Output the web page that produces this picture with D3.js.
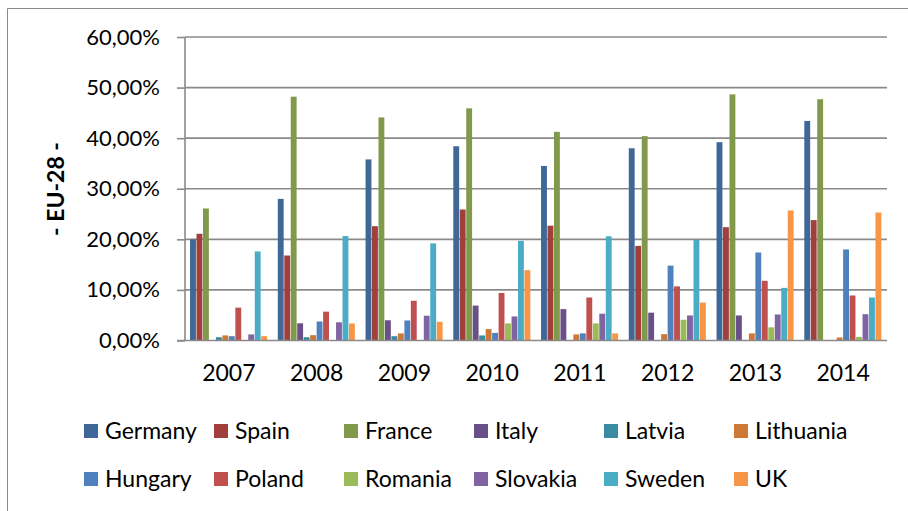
<!DOCTYPE html>
<html>
<head>
<meta charset="utf-8">
<script src="https://cdn.jsdelivr.net/npm/d3@7"></script>
<style>
  body { margin: 0; background: #fff; }
  text { font-family: Lato, "Liberation Sans", sans-serif; fill: #000; }
</style>
</head>
<body>
<svg id="chart" width="908" height="511"></svg>
<script>
// Jahre (Kategorien) und Länder (Serien)
var years = ["2007", "2008", "2009", "2010", "2011", "2012", "2013", "2014"];
var countries = ["Germany", "Spain", "France", "Italy", "Latvia", "Lithuania",
                 "Hungary", "Poland", "Romania", "Slovakia", "Sweden", "UK"];
var colors = ["#3F6797", "#A03F3C", "#80994A", "#6A5088", "#388BA0", "#CD7835",
              "#4F81BD", "#C0504D", "#9BBB59", "#8064A2", "#4BACC6", "#F79646"];

// Werte in % pro Land, Reihenfolge wie years
var germany   = [20.0, 28.0, 35.8, 38.4, 34.5, 38.0, 39.2, 43.4];
var spain     = [21.1, 16.8, 22.6, 25.9, 22.7, 18.7, 22.4, 23.8];
var france    = [26.1, 48.2, 44.1, 45.9, 41.25, 40.4, 48.65, 47.7];
var italy     = [0, 3.4, 4.0, 6.9, 6.2, 5.5, 4.95, 0];
var latvia    = [0.65, 0.65, 0.85, 1.0, 0, 0, 0, 0];
var lithuania = [1.0, 1.05, 1.4, 2.25, 1.2, 1.25, 1.4, 0.6];
var hungary   = [0.85, 3.76, 3.96, 1.5, 1.4, 14.8, 17.4, 18.0];
var poland    = [6.5, 5.7, 7.85, 9.4, 8.5, 10.7, 11.8, 8.9];
var romania   = [0, 0, 0, 3.37, 3.37, 4.1, 2.6, 0.7];
var slovakia  = [1.2, 3.6, 4.9, 4.75, 5.3, 4.95, 5.15, 5.2];
var sweden    = [17.6, 20.65, 19.2, 19.7, 20.6, 19.9, 10.4, 8.5];
var uk        = [0.85, 3.37, 3.7, 13.9, 1.4, 7.5, 25.7, 25.3];

var series = [germany, spain, france, italy, latvia, lithuania,
              hungary, poland, romania, slovakia, sweden, uk];
var yTicks = [0, 10, 20, 30, 40, 50, 60];

var svg = d3.select("#chart");

// Rahmen (nur links und oben sichtbar)
svg.append("path")
    .attr("d", "M7.5,511 L7.5,8.5 L908,8.5")
    .attr("fill", "none")
    .attr("stroke", "#8a8a8a")
    .attr("stroke-width", 1);

var plot = {left: 185, right: 887, top: 37, bottom: 340.5};

var x0 = d3.scaleBand().domain(years).range([plot.left, plot.right]);
var x1 = d3.scaleBand().domain(countries).range([0, x0.bandwidth()]).paddingOuter(0.78);
var y = d3.scaleLinear().domain([0, 60]).range([plot.bottom, plot.top]);

var fmt = d3.formatLocale({decimal: ",", thousands: ".", grouping: [3], currency: ["", "€"]});
var pct = function(d) { return fmt.format(".2f")(d) + "%"; };

// Gitterlinien
svg.append("g")
    .selectAll("line")
    .data(yTicks.filter(function(d) { return d > 0; }))
    .enter()
    .append("line")
    .attr("x1", plot.left)
    .attr("x2", plot.right)
    .attr("y1", function(d) { return y(d); })
    .attr("y2", function(d) { return y(d); })
    .attr("stroke", "#8a8a8a")
    .attr("stroke-width", 1.6);

// Balken
var groups = svg.append("g")
    .selectAll("g")
    .data(years)
    .enter()
    .append("g")
    .attr("transform", function(d) { return "translate(" + x0(d) + ",0)"; });

groups.selectAll("rect")
    .data(function(d, i) {
        return countries.map(function(c, j) { return {country: c, value: series[j][i], k: j}; });
    })
    .enter()
    .append("rect")
    .attr("x", function(d) { return x1(d.country); })
    .attr("width", x1.bandwidth() - 0.6)
    .attr("y", function(d) { return y(d.value); })
    .attr("height", function(d) { return y(0) - y(d.value); })
    .attr("fill", function(d) { return colors[d.k]; });

// y-Achse
var yAxis = svg.append("g")
    .attr("transform", "translate(" + plot.left + ",0)")
    .call(d3.axisLeft(y).tickValues(yTicks).tickSize(8).tickPadding(17).tickFormat(pct));
yAxis.select(".domain").attr("stroke", "#8a8a8a").attr("stroke-width", 1.6)
    .attr("d", "M0," + plot.top + "V" + plot.bottom);
yAxis.selectAll(".tick line").attr("stroke", "#8a8a8a").attr("stroke-width", 1.6);
yAxis.selectAll("text").style("font-size", "22px").attr("font-family", null);

// x-Achse
var xAxis = svg.append("g")
    .attr("transform", "translate(0," + plot.bottom + ")")
    .call(d3.axisBottom(x0).tickSize(0).tickPadding(24));
xAxis.select(".domain").attr("stroke", "#8a8a8a").attr("stroke-width", 1.6)
    .attr("d", "M" + (plot.left - 8) + ",0H" + plot.right);
xAxis.selectAll("text").style("font-size", "23px").attr("font-family", null);

// Achsentitel
svg.append("text")
    .attr("transform", "translate(64,189) rotate(-90)")
    .attr("text-anchor", "middle")
    .style("font-size", "23px")
    .style("font-weight", "bold")
    .text("- EU-28 -");

// Legende
var legend = svg.append("g")
    .selectAll("g")
    .data(countries)
    .enter()
    .append("g")
    .attr("transform", function(d, i) {
        var col = i % 6, row = Math.floor(i / 6);
        return "translate(" + (84 + col * 130) + "," + (431 + row * 48) + ")";
    });

legend.append("rect")
    .attr("x", 0)
    .attr("y", -7)
    .attr("width", 14)
    .attr("height", 14)
    .attr("fill", function(d, i) { return colors[i]; });

legend.append("text")
    .attr("x", 21)
    .attr("y", 8)
    .style("font-size", "23px")
    .text(function(d) { return d; });
</script>
</body>
</html>
